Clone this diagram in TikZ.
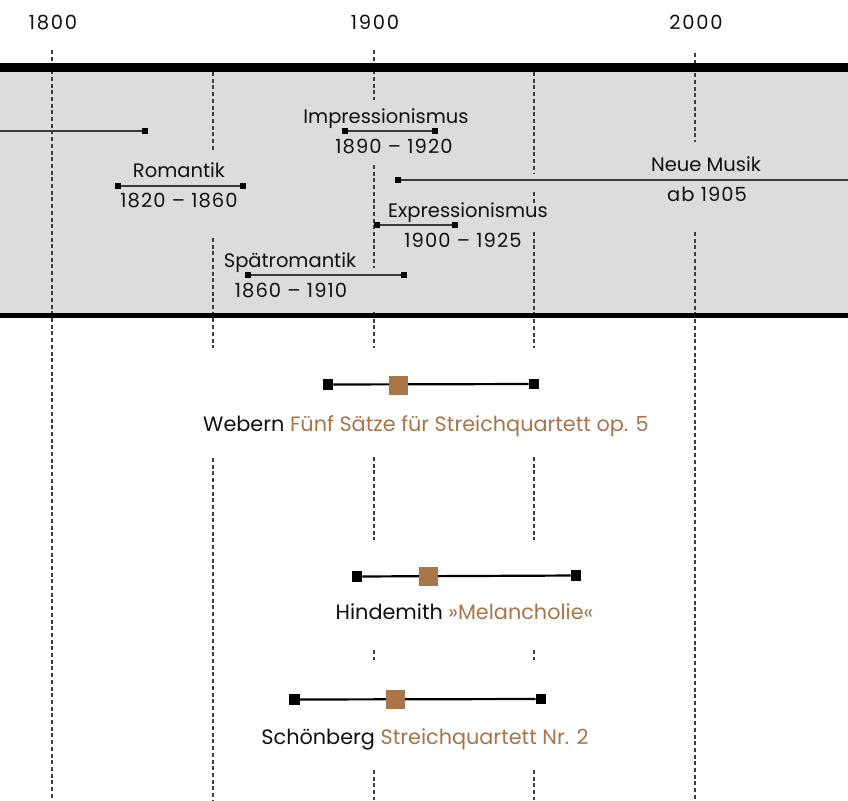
\documentclass[tikz,border=0pt]{standalone}
\usepackage{fontspec}
\setmainfont{Poppins}
\newfontfamily\digitfont[LetterSpace=5.5]{Poppins}
\newfontfamily\yearfont[LetterSpace=9]{Poppins}
\definecolor{band}{HTML}{DBDCDE}
\definecolor{ink}{HTML}{111111}
\definecolor{gridc}{HTML}{3D3D3D}
\definecolor{linec}{HTML}{3A3A3A}
\definecolor{brown}{HTML}{AA7549}
\tikzset{
  txt/.style={font=\fontsize{19.5}{23}\selectfont, text=ink, inner sep=0pt, anchor=base},
  dtxt/.style={txt, font=\digitfont\fontsize{19.5}{23}\selectfont},
  ytxt/.style={txt, font=\yearfont\fontsize{19.5}{23}\selectfont},
  btxt/.style={txt, font=\fontsize{20.8}{24}\selectfont},
  pend/.style={rectangle, fill=black, minimum size=6pt, inner sep=0pt},
  pline/.style={draw=linec, line width=1.3pt},
  wend/.style={rectangle, fill=black, minimum size=10.5pt, inner sep=0pt},
  wmid/.style={rectangle, fill=brown, minimum size=19pt, inner sep=0pt},
  wline/.style={draw=black, line width=2.2pt},
  gridl/.style={draw=gridc, line width=1.3pt, dash pattern=on 4pt off 2.7pt},
}
\begin{document}
\begin{tikzpicture}[x=1pt,y=-1pt]
\useasboundingbox (0,0) rectangle (848,800);
\fill[white] (0,0) rectangle (848,800);
\fill[band] (0,67) rectangle (848,315);
% grid lines (with gaps)
\draw[gridl] (52,50) -- (52,800);
\draw[gridl] (213,72) -- (213,150) (213,238) -- (213,348) (213,458) -- (213,800);
\draw[gridl] (374,50) -- (374,100) (374,165) -- (374,268) (374,312) -- (374,348)
  (374,457) -- (374,540) (374,650) -- (374,660) (374,770) -- (374,800);
\draw[gridl] (534,72) -- (534,173) (534,192) -- (534,203) (534,232) -- (534,348)
  (534,457) -- (534,540) (534,650) -- (534,660) (534,770) -- (534,800);
\draw[gridl] (695,53) -- (695,142) (695,232) -- (695,800);
% band borders
\draw[line width=8.5pt] (0,67.5) -- (848,67.5);
\draw[line width=4.5pt] (0,315.3) -- (848,315.3);
% year labels
\node[ytxt] (y1800) at (53,30) {1800};
\node[ytxt] (y1900) at (375,30) {1900};
\node[ytxt] (y2000) at (696,30) {2000};
% early period
\coordinate (k0) at (0,131);
\node[pend] (k1) at (145,131) {};
\draw[pline] (k0) -- (k1);
% Impressionismus
\node[pend] (i0) at (345,131) {};
\node[pend] (i1) at (435,131) {};
\draw[pline] (i0) -- (i1);
\node[txt] (il) at (386,123) {Impressionismus};
\node[dtxt] (id) at (394,153) {1890 – 1920};
% Romantik
\node[pend] (r0) at (118,186) {};
\node[pend] (r1) at (243,186) {};
\draw[pline] (r0) -- (r1);
\node[txt] (rl) at (179,177) {Romantik};
\node[dtxt] (rd) at (179,207.5) {1820 – 1860};
% Neue Musik
\node[pend] (n0) at (398,180) {};
\coordinate (n1) at (848,180);
\draw[pline] (n0) -- (n1);
\node[txt] (nl) at (706,171.5) {Neue Musik};
\node[dtxt] (nd) at (707,201.5) {ab 1905};
% Expressionismus
\node[pend] (e0) at (377,225) {};
\node[pend] (e1) at (455,225) {};
\draw[pline] (e0) -- (e1);
\node[txt] (el) at (468,217) {Expressionismus};
\node[dtxt] (ed) at (463,247) {1900 – 1925};
% Spaetromantik
\node[pend] (s0) at (248,275) {};
\node[pend] (s1) at (404,275) {};
\draw[pline] (s0) -- (s1);
\node[txt] (sl) at (290,267) {Spätromantik};
\node[dtxt] (sd) at (291,297) {1860 – 1910};
% Webern
\node[wend] (w0) at (328,384.5) {};
\node[wend] (w1) at (534,384) {};
\draw[wline] (w0) -- (w1);
\node[wmid] (wm) at (398.5,385) {};
\node[btxt] (wt) at (426,431.7) {Webern \textcolor{brown}{Fünf Sätze für Streichquartett op. 5}};
% Hindemith
\node[wend] (h0) at (357,576.5) {};
\node[wend] (h1) at (576,575.5) {};
\draw[wline] (h0) -- (h1);
\node[wmid] (hm) at (428.5,576) {};
\node[btxt] (ht) at (464.5,619) {Hindemith \textcolor{brown}{»Melancholie«}};
% Schoenberg
\node[wend] (c0) at (294.5,699.5) {};
\node[wend] (c1) at (541,699) {};
\draw[wline] (c0) -- (c1);
\node[wmid] (cm) at (395,699.5) {};
\node[btxt] (ct) at (425,744) {Schönberg \textcolor{brown}{Streichquartett Nr. 2}};
\end{tikzpicture}
\end{document}
